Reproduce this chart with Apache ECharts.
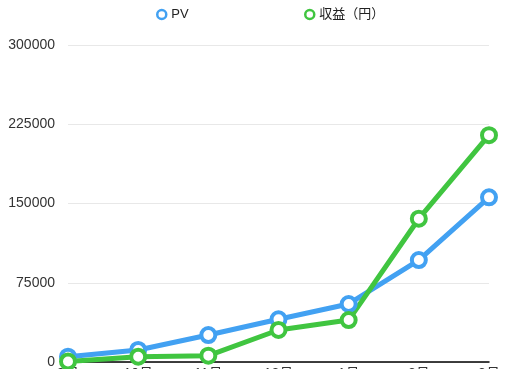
<!DOCTYPE html>
<html><head><meta charset="utf-8">
<script src="https://cdn.jsdelivr.net/npm/echarts@6/dist/echarts.min.js"></script>
<style>html,body{margin:0;padding:0;background:#fff}#c{width:523px;height:369px}</style>
</head><body><div id="c"></div>
<script>
const categories = ['9月', '10月', '11月', '12月', '1月', '2月', '3月'];
const pvValues = [5000, 11400, 25500, 40400, 54900, 96500, 155800];
const revenueValues = [500, 5000, 6000, 30300, 39700, 135600, 214700];
const yTicks = [0, 75000, 150000, 225000, 300000];
const seriesNames = ['PV', '収益（円）'];
const colors = ['#42a1f2', '#40c540'];

const chart = echarts.init(document.getElementById('c'));
function mkSeries(name, data, c) {
  return {
    name: name, type: 'line', data: data,
    symbol: 'circle', symbolSize: 14,
    lineStyle: { color: c, width: 5 },
    itemStyle: { color: '#fff', borderColor: c, borderWidth: 4 },
    emphasis: { disabled: true }
  };
}
chart.setOption({
  animation: false,
  textStyle: { fontFamily: 'Liberation Sans, Noto Sans CJK JP, sans-serif' },
  legend: [
    { left: 151, top: 3, itemWidth: 9, itemHeight: 9, itemGap: 10,
      textStyle: { fontSize: 13, color: '#222' },
      data: [{ name: seriesNames[0], icon: 'circle', itemStyle: { color: '#fff', borderColor: colors[0], borderWidth: 2.5 } }] },
    { left: 299, top: 3, itemWidth: 9, itemHeight: 9, itemGap: 10,
      textStyle: { fontSize: 13, color: '#222' },
      data: [{ name: seriesNames[1], icon: 'circle', itemStyle: { color: '#fff', borderColor: colors[1], borderWidth: 2.5 } }] }
  ],
  grid: { left: 68, right: 34, top: 45, bottom: 7, containLabel: false, outerBoundsMode: 'none' },
  xAxis: {
    type: 'category', data: categories, boundaryGap: false,
    axisLine: { lineStyle: { color: '#000', width: 1.5 } },
    axisTick: { show: false },
    axisLabel: { margin: 5, fontSize: 14, color: '#333' },
    splitLine: { show: false }
  },
  yAxis: {
    type: 'value', min: yTicks[0], max: yTicks[yTicks.length - 1], interval: 75000,
    axisLine: { show: false }, axisTick: { show: false },
    axisLabel: { margin: 13, fontSize: 14, color: '#333', formatter: function (v) { return String(v); } },
    splitLine: { lineStyle: { color: '#e8e8e8', width: 1 } }
  },
  series: [
    mkSeries(seriesNames[0], pvValues, colors[0]),
    mkSeries(seriesNames[1], revenueValues, colors[1])
  ]
});
</script></body></html>
